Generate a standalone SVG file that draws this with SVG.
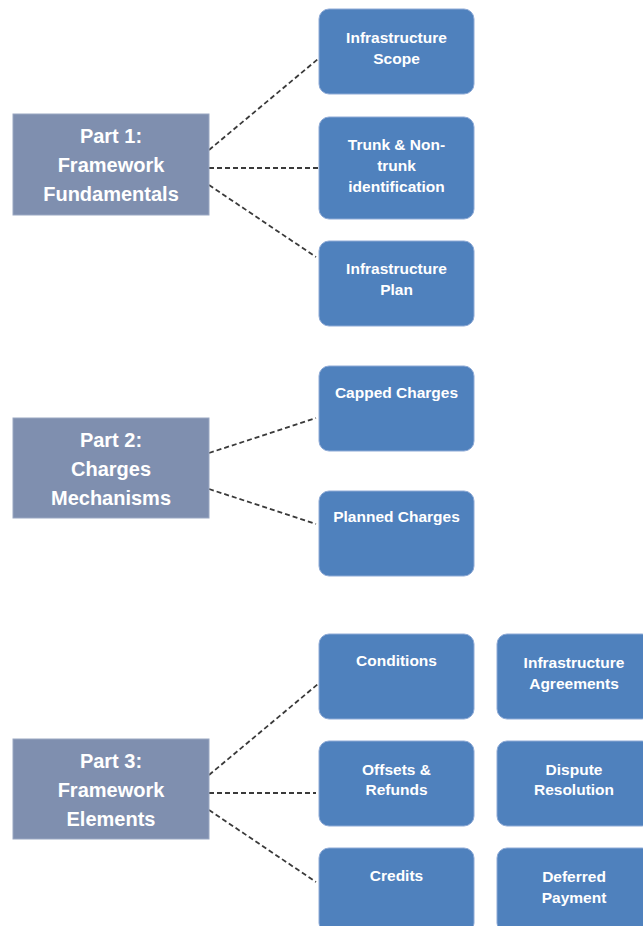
<svg xmlns="http://www.w3.org/2000/svg" width="643" height="926" viewBox="0 0 643 926">
<style>
.part{fill:#7f8faf;stroke:#9aa7c2;stroke-width:1}
.item{fill:#4f81bd;stroke:#8eaad6;stroke-width:1}
.pt{font-family:"Liberation Sans",Arial,sans-serif;font-weight:bold;font-size:20px;fill:#ffffff;text-anchor:middle}
.it{font-family:"Liberation Sans",Arial,sans-serif;font-weight:bold;font-size:15.5px;fill:#ffffff;text-anchor:middle}
.conn line{stroke:#3a3a3a;stroke-width:1.8;stroke-dasharray:5 3;fill:none}
</style>
<rect width="643" height="926" fill="#ffffff"/>
<g id="connectors" class="conn">
<line x1="209" y1="150" x2="318" y2="59"/>
<line x1="209" y1="168" x2="318" y2="168"/>
<line x1="209" y1="185" x2="316" y2="257"/>
<line x1="209" y1="453" x2="316" y2="418"/>
<line x1="209" y1="489" x2="316" y2="524"/>
<line x1="209" y1="775" x2="318" y2="684"/>
<line x1="209" y1="793" x2="316" y2="793"/>
<line x1="209" y1="810" x2="316" y2="882"/>
</g>
<g id="part1"><rect class="part" x="13" y="114" width="196" height="101"/>
<text class="pt" x="111" y="143">Part 1:</text><text class="pt" x="111" y="172">Framework</text><text class="pt" x="111" y="201">Fundamentals</text></g>
<g id="part2"><rect class="part" x="13" y="418" width="196" height="100"/>
<text class="pt" x="111" y="447">Part 2:</text><text class="pt" x="111" y="476">Charges</text><text class="pt" x="111" y="505">Mechanisms</text></g>
<g id="part3"><rect class="part" x="13" y="739" width="196" height="100"/>
<text class="pt" x="111" y="768">Part 3:</text><text class="pt" x="111" y="797">Framework</text><text class="pt" x="111" y="826">Elements</text></g>
<g id="infra-scope"><rect class="item" x="319" y="9" width="155" height="85" rx="10"/>
<text class="it" x="396.5" y="43">Infrastructure</text><text class="it" x="396.5" y="64">Scope</text></g>
<g id="trunk"><rect class="item" x="319" y="117" width="155" height="102" rx="10"/>
<text class="it" x="396.5" y="150">Trunk &amp; Non-</text><text class="it" x="396.5" y="171">trunk</text><text class="it" x="396.5" y="192">identification</text></g>
<g id="infra-plan"><rect class="item" x="319" y="241" width="155" height="85" rx="10"/>
<text class="it" x="396.5" y="274">Infrastructure</text><text class="it" x="396.5" y="295">Plan</text></g>
<g id="capped"><rect class="item" x="319" y="366" width="155" height="85" rx="10"/>
<text class="it" x="396.5" y="398">Capped Charges</text></g>
<g id="planned"><rect class="item" x="319" y="491" width="155" height="85" rx="10"/>
<text class="it" x="396.5" y="522">Planned Charges</text></g>
<g id="conditions"><rect class="item" x="319" y="634" width="155" height="85" rx="10"/>
<text class="it" x="396.5" y="666">Conditions</text></g>
<g id="offsets"><rect class="item" x="319" y="741" width="155" height="85" rx="10"/>
<text class="it" x="396.5" y="775">Offsets &amp;</text><text class="it" x="396.5" y="795">Refunds</text></g>
<g id="credits"><rect class="item" x="319" y="848" width="155" height="85" rx="10"/>
<text class="it" x="396.5" y="881">Credits</text></g>
<g id="infra-agreements"><rect class="item" x="497" y="634" width="155" height="85" rx="10"/>
<text class="it" x="574" y="668">Infrastructure</text><text class="it" x="574" y="689">Agreements</text></g>
<g id="dispute"><rect class="item" x="497" y="741" width="155" height="85" rx="10"/>
<text class="it" x="574" y="775">Dispute</text><text class="it" x="574" y="795">Resolution</text></g>
<g id="deferred"><rect class="item" x="497" y="848" width="155" height="85" rx="10"/>
<text class="it" x="574" y="882">Deferred</text><text class="it" x="574" y="903">Payment</text></g>
</svg>
